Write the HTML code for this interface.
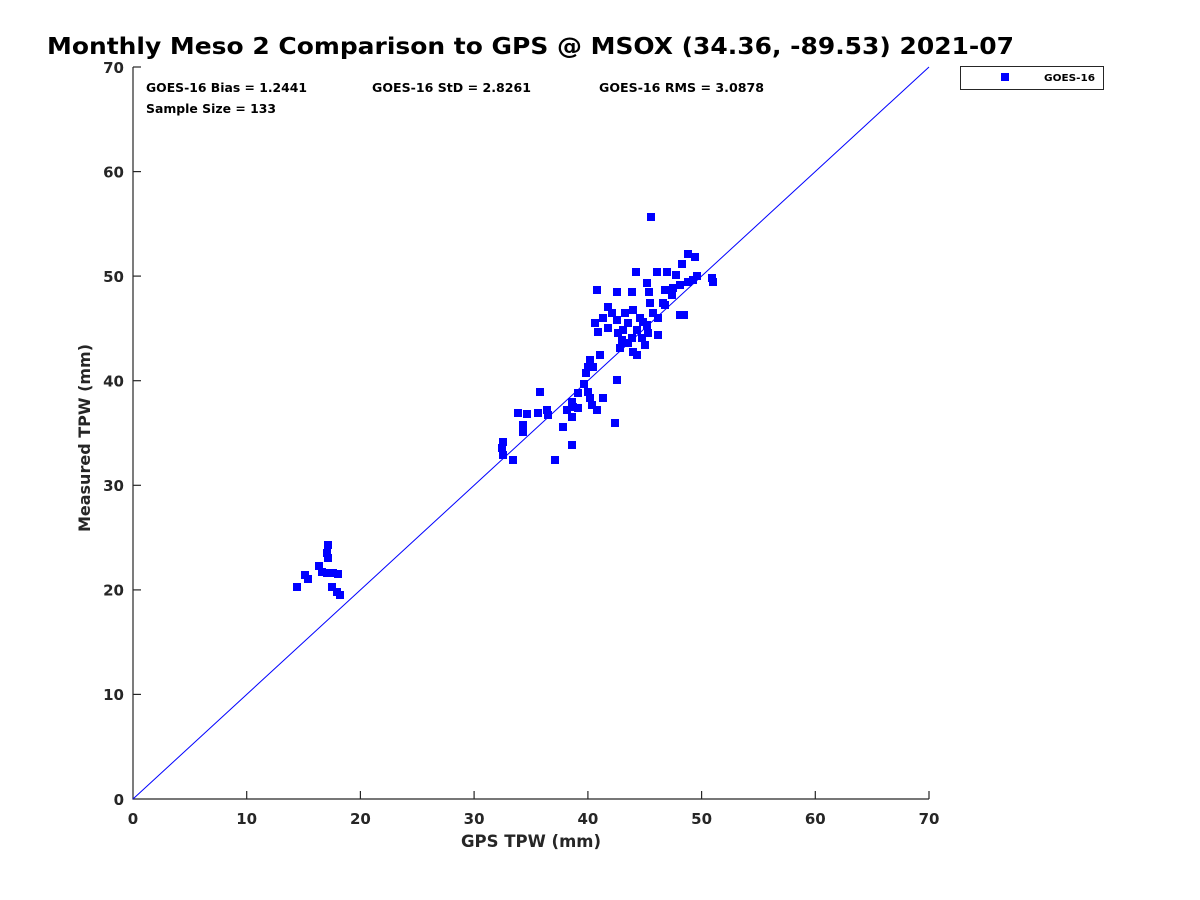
<!DOCTYPE html>
<html><head><meta charset="utf-8"><style>
html,body{margin:0;padding:0;background:#fff;}
svg{display:block;}
text{font-family:"DejaVu Sans","Liberation Sans",sans-serif;font-weight:bold;}
</style></head><body>
<svg width="1200" height="900" viewBox="0 0 1200 900" xmlns="http://www.w3.org/2000/svg">
<rect width="1200" height="900" fill="#fff"/>
<text x="47" y="54" font-size="23" fill="#000" textLength="967" lengthAdjust="spacingAndGlyphs">Monthly Meso 2 Comparison to GPS @ MSOX (34.36, -89.53) 2021-07</text>
<g stroke="#262626" stroke-width="1.2" fill="none">
<line x1="133" y1="67" x2="133" y2="799.5"/>
<line x1="132.5" y1="799" x2="929" y2="799"/>
<line x1="246.7" y1="799" x2="246.7" y2="791"/>
<line x1="360.4" y1="799" x2="360.4" y2="791"/>
<line x1="474.1" y1="799" x2="474.1" y2="791"/>
<line x1="587.9" y1="799" x2="587.9" y2="791"/>
<line x1="701.6" y1="799" x2="701.6" y2="791"/>
<line x1="815.3" y1="799" x2="815.3" y2="791"/>
<line x1="929" y1="799" x2="929" y2="791"/>
<line x1="133" y1="694.4" x2="141" y2="694.4"/>
<line x1="133" y1="589.9" x2="141" y2="589.9"/>
<line x1="133" y1="485.3" x2="141" y2="485.3"/>
<line x1="133" y1="380.7" x2="141" y2="380.7"/>
<line x1="133" y1="276.1" x2="141" y2="276.1"/>
<line x1="133" y1="171.6" x2="141" y2="171.6"/>
<line x1="133" y1="67" x2="141" y2="67"/>
</g>
<g font-size="15" fill="#262626" text-anchor="middle">
<text x="133" y="824">0</text>
<text x="246.7" y="824">10</text>
<text x="360.4" y="824">20</text>
<text x="474.1" y="824">30</text>
<text x="587.9" y="824">40</text>
<text x="701.6" y="824">50</text>
<text x="815.3" y="824">60</text>
<text x="929" y="824">70</text>
</g>
<g font-size="15" fill="#262626" text-anchor="end">
<text x="124" y="805">0</text>
<text x="124" y="700">10</text>
<text x="124" y="595.5">20</text>
<text x="124" y="491">30</text>
<text x="124" y="386.5">40</text>
<text x="124" y="282">50</text>
<text x="124" y="177.5">60</text>
<text x="124" y="73">70</text>
</g>
<text x="531" y="847" font-size="16.5" fill="#262626" text-anchor="middle">GPS TPW (mm)</text>
<text transform="translate(90,438) rotate(-90)" font-size="16" fill="#262626" text-anchor="middle">Measured TPW (mm)</text>
<g font-size="12.5" fill="#000">
<text x="146" y="92" textLength="161" lengthAdjust="spacingAndGlyphs">GOES-16 Bias = 1.2441</text>
<text x="372" y="92" textLength="159" lengthAdjust="spacingAndGlyphs">GOES-16 StD = 2.8261</text>
<text x="599" y="92" textLength="165" lengthAdjust="spacingAndGlyphs">GOES-16 RMS = 3.0878</text>
<text x="146" y="113" textLength="130" lengthAdjust="spacingAndGlyphs">Sample Size = 133</text>
</g>
<line x1="133" y1="799" x2="929" y2="67" stroke="#0000ff" stroke-width="1"/>
<g fill="#0000ff">
<rect x="324" y="541" width="8" height="8"/>
<rect x="323" y="549" width="8" height="8"/>
<rect x="324" y="554" width="8" height="8"/>
<rect x="315" y="562" width="8" height="8"/>
<rect x="318" y="568" width="8" height="8"/>
<rect x="323" y="569" width="8" height="8"/>
<rect x="329" y="569" width="8" height="8"/>
<rect x="334" y="570" width="8" height="8"/>
<rect x="301" y="571" width="8" height="8"/>
<rect x="304" y="575" width="8" height="8"/>
<rect x="293" y="583" width="8" height="8"/>
<rect x="328" y="583" width="8" height="8"/>
<rect x="333" y="588" width="8" height="8"/>
<rect x="336" y="591" width="8" height="8"/>
<rect x="582" y="369" width="8" height="8"/>
<rect x="613" y="376" width="8" height="8"/>
<rect x="580" y="380" width="8" height="8"/>
<rect x="574" y="389" width="8" height="8"/>
<rect x="584" y="388" width="8" height="8"/>
<rect x="536" y="388" width="8" height="8"/>
<rect x="568" y="398" width="8" height="8"/>
<rect x="586" y="394" width="8" height="8"/>
<rect x="599" y="394" width="8" height="8"/>
<rect x="569" y="403" width="8" height="8"/>
<rect x="574" y="404" width="8" height="8"/>
<rect x="588" y="401" width="8" height="8"/>
<rect x="593" y="406" width="8" height="8"/>
<rect x="563" y="406" width="8" height="8"/>
<rect x="568" y="413" width="8" height="8"/>
<rect x="543" y="406" width="8" height="8"/>
<rect x="544" y="411" width="8" height="8"/>
<rect x="534" y="409" width="8" height="8"/>
<rect x="514" y="409" width="8" height="8"/>
<rect x="523" y="410" width="8" height="8"/>
<rect x="519" y="421" width="8" height="8"/>
<rect x="519" y="428" width="8" height="8"/>
<rect x="611" y="419" width="8" height="8"/>
<rect x="559" y="423" width="8" height="8"/>
<rect x="499" y="438" width="8" height="8"/>
<rect x="498" y="444" width="8" height="8"/>
<rect x="499" y="451" width="8" height="8"/>
<rect x="568" y="441" width="8" height="8"/>
<rect x="509" y="456" width="8" height="8"/>
<rect x="551" y="456" width="8" height="8"/>
<rect x="632" y="268" width="8" height="8"/>
<rect x="653" y="268" width="8" height="8"/>
<rect x="663" y="268" width="8" height="8"/>
<rect x="643" y="279" width="8" height="8"/>
<rect x="593" y="286" width="8" height="8"/>
<rect x="613" y="288" width="8" height="8"/>
<rect x="628" y="288" width="8" height="8"/>
<rect x="645" y="288" width="8" height="8"/>
<rect x="661" y="286" width="8" height="8"/>
<rect x="646" y="299" width="8" height="8"/>
<rect x="659" y="299" width="8" height="8"/>
<rect x="604" y="303" width="8" height="8"/>
<rect x="629" y="306" width="8" height="8"/>
<rect x="608" y="309" width="8" height="8"/>
<rect x="621" y="309" width="8" height="8"/>
<rect x="649" y="309" width="8" height="8"/>
<rect x="599" y="314" width="8" height="8"/>
<rect x="613" y="316" width="8" height="8"/>
<rect x="636" y="314" width="8" height="8"/>
<rect x="654" y="314" width="8" height="8"/>
<rect x="591" y="319" width="8" height="8"/>
<rect x="624" y="319" width="8" height="8"/>
<rect x="643" y="321" width="8" height="8"/>
<rect x="604" y="324" width="8" height="8"/>
<rect x="619" y="326" width="8" height="8"/>
<rect x="633" y="326" width="8" height="8"/>
<rect x="594" y="328" width="8" height="8"/>
<rect x="614" y="329" width="8" height="8"/>
<rect x="644" y="329" width="8" height="8"/>
<rect x="654" y="331" width="8" height="8"/>
<rect x="618" y="336" width="8" height="8"/>
<rect x="628" y="334" width="8" height="8"/>
<rect x="638" y="334" width="8" height="8"/>
<rect x="624" y="339" width="8" height="8"/>
<rect x="641" y="341" width="8" height="8"/>
<rect x="616" y="344" width="8" height="8"/>
<rect x="629" y="348" width="8" height="8"/>
<rect x="596" y="351" width="8" height="8"/>
<rect x="633" y="351" width="8" height="8"/>
<rect x="586" y="356" width="8" height="8"/>
<rect x="584" y="363" width="8" height="8"/>
<rect x="589" y="363" width="8" height="8"/>
<rect x="647" y="213" width="8" height="8"/>
<rect x="684" y="250" width="8" height="8"/>
<rect x="691" y="253" width="8" height="8"/>
<rect x="678" y="260" width="8" height="8"/>
<rect x="672" y="271" width="8" height="8"/>
<rect x="693" y="272" width="8" height="8"/>
<rect x="708" y="274" width="8" height="8"/>
<rect x="709" y="278" width="8" height="8"/>
<rect x="689" y="276" width="8" height="8"/>
<rect x="684" y="278" width="8" height="8"/>
<rect x="676" y="281" width="8" height="8"/>
<rect x="669" y="284" width="8" height="8"/>
<rect x="668" y="291" width="8" height="8"/>
<rect x="661" y="301" width="8" height="8"/>
<rect x="676" y="311" width="8" height="8"/>
<rect x="680" y="311" width="8" height="8"/>
<rect x="639" y="318" width="8" height="8"/>
</g>
<rect x="960.5" y="66.5" width="143" height="23" fill="#fff" stroke="#262626" stroke-width="1"/>
<rect x="1001" y="73" width="8" height="8" fill="#0000ff"/>
<text x="1044" y="81" font-size="10" fill="#000" textLength="51" lengthAdjust="spacingAndGlyphs">GOES-16</text>
</svg>
</body></html>
